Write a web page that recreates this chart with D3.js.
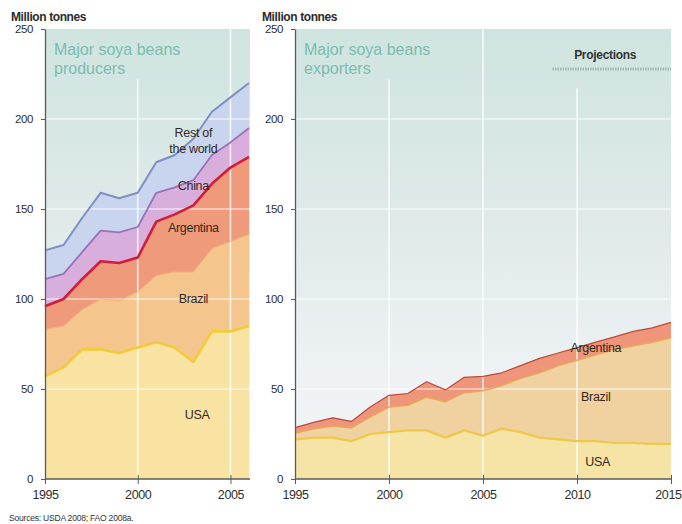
<!DOCTYPE html>
<html>
<head>
<meta charset="utf-8">
<script src="https://cdn.jsdelivr.net/npm/d3@7/dist/d3.min.js"></script>
<style>
  body { margin: 0; background: #fff; }
  text { font-family: "Liberation Sans", Arial, sans-serif; }
</style>
</head>
<body>
<svg id="chart" width="682" height="524"></svg>
<script>
// Soya bean production by producer (million tonnes), 1995-2006
const prodYears     = [1995, 1996, 1997, 1998, 1999, 2000, 2001, 2002, 2003, 2004, 2005, 2006];
const prodUSA       = [57, 62, 72, 72, 70, 73, 76, 73, 65, 82, 82, 85];
const prodBrazil    = [26, 23, 22, 28, 29, 31, 37, 42, 50, 46, 50, 51];
const prodArgentina = [13, 15, 17, 21, 21, 19, 30, 32, 37, 36, 41, 43];
const prodChina     = [15, 14, 15, 17, 17, 17, 16, 15, 14, 16, 14, 16];
const prodRest      = [16, 16, 19, 21, 19, 19, 17, 18, 23, 24, 25, 25];

// Soya bean exports by exporter (million tonnes), 1995-2015 incl. projections
const expYears     = [1995, 1996, 1997, 1998, 1999, 2000, 2001, 2002, 2003, 2004, 2005,
                      2006, 2007, 2008, 2009, 2010, 2011, 2012, 2013, 2014, 2015];
const expUSA       = [22, 23, 23, 21, 25, 26, 27, 27, 23, 27, 24, 28, 26, 23, 22, 21, 21, 20, 20, 19.5, 19.5];
const expBrazil    = [3.5, 5, 6.5, 7.5, 9.5, 14, 14, 18.5, 20, 21, 25, 24, 30, 36, 41, 45, 48, 52, 54, 56.5, 59];
const expArgentina = [3, 3.5, 4.5, 3.5, 5.5, 6.5, 6.5, 8.5, 6.5, 8.5, 8, 7, 7, 8, 7, 7, 7, 7, 8, 8, 8.5];

const yTickValues = [0, 50, 100, 150, 200, 250];
const prodXTicks  = [1995, 2000, 2005];
const expXTicks   = [1995, 2000, 2005, 2010, 2015];

const svg = d3.select("#chart");

// Shared vertical background gradient of the plot panels
const defs = svg.append("defs");
const grad = defs.append("linearGradient")
  .attr("id", "panelBg").attr("x1", 0).attr("y1", 0).attr("x2", 0).attr("y2", 1);
grad.append("stop").attr("offset", "0%").attr("stop-color", "#cfe4e0");
grad.append("stop").attr("offset", "45%").attr("stop-color", "#e0eae9");
grad.append("stop").attr("offset", "78%").attr("stop-color", "#eef2f4");
grad.append("stop").attr("offset", "100%").attr("stop-color", "#f3f5f6");

function drawPanel(cfg) {
  const x = d3.scaleLinear().domain(cfg.xDomain).range(cfg.xRange);
  const y = d3.scaleLinear().domain([0, 250]).range([479, 29]);
  const g = svg.append("g");

  // panel background
  g.append("rect")
    .attr("x", cfg.xRange[0]).attr("y", y(250))
    .attr("width", cfg.xRange[1] - cfg.xRange[0] + cfg.padRight)
    .attr("height", y(0) - y(250))
    .attr("fill", "url(#panelBg)");

  // stacked data table
  const table = cfg.years.map((yr, i) => {
    const row = { year: yr };
    cfg.series.forEach(s => { row[s.key] = s.values[i]; });
    return row;
  });
  const stacked = d3.stack().keys(cfg.series.map(s => s.key))(table);

  const area = d3.area()
    .x(d => x(d.data.year)).y0(d => y(d[0])).y1(d => y(d[1]));
  const topLine = d3.line()
    .x(d => x(d.data.year)).y(d => y(d[1]));

  stacked.forEach((layer, i) => {
    g.append("path").attr("d", area(layer)).attr("fill", cfg.series[i].fill);
  });

  // gridlines over the areas
  const grid = g.append("g").attr("stroke", "#ffffff").attr("stroke-opacity", 0.6);
  [50, 100, 150, 200].forEach(v => {
    grid.append("line")
      .attr("x1", cfg.xRange[0]).attr("x2", cfg.xRange[1] + cfg.padRight)
      .attr("y1", y(v)).attr("y2", y(v)).attr("stroke-width", 1.4);
  });
  cfg.vGrid.forEach(gv => {
    grid.append("line")
      .attr("x1", x(gv.year)).attr("x2", x(gv.year))
      .attr("y1", y(gv.from)).attr("y2", y(0))
      .attr("stroke-width", 1.6).attr("stroke-opacity", 0.8);
  });

  // boundary lines on top of each layer
  stacked.forEach((layer, i) => {
    const s = cfg.series[i];
    if (!s.line) return;
    g.append("path").attr("d", topLine(layer))
      .attr("fill", "none").attr("stroke", s.line)
      .attr("stroke-width", s.lineWidth).attr("stroke-linejoin", "round");
  });

  // y axis
  const yAxis = d3.axisLeft(y).tickValues(yTickValues).tickSize(4).tickPadding(8).tickSizeOuter(0);
  const ya = g.append("g").attr("transform", `translate(${cfg.xRange[0]},0)`).call(yAxis);
  ya.select(".domain").attr("stroke", "#5a5a5a").attr("stroke-width", 1.3);
  ya.selectAll(".tick line").attr("stroke", "#5a5a5a");
  ya.selectAll(".tick text").attr("fill", "#2e2e2e").style("font-size", "11.5px")
    .style("letter-spacing", "-0.4px");

  // x axis
  const xAxis = d3.axisBottom(x).tickValues(cfg.xTicks).tickFormat(d3.format("d"))
    .tickSize(5).tickPadding(6).tickSizeOuter(0);
  const xa = g.append("g").attr("transform", `translate(0,${y(0)})`).call(xAxis);
  xa.select(".domain").attr("stroke", "#5a5a5a").attr("stroke-width", 1.3)
    .attr("d", `M${cfg.xRange[0]},0H${cfg.xRange[1] + cfg.padRight}`);
  xa.selectAll(".tick line").attr("stroke", "#5a5a5a").attr("y1", -4);
  xa.selectAll(".tick text").attr("fill", "#2e2e2e").style("font-size", "12.5px")
    .style("letter-spacing", "-0.4px");
  // keep the last year label inside the canvas
  if (cfg.xRange[1] > 660) {
    xa.selectAll(".tick text").filter(d => d === cfg.xDomain[1])
      .attr("text-anchor", "end").attr("x", 10);
  }

  // unit caption
  svg.append("text").attr("x", cfg.unitX).attr("y", 21)
    .attr("fill", "#2b2b2b").style("font-size", "12px").style("font-weight", "bold")
    .style("letter-spacing", "-0.4px").text("Million tonnes");

  // panel title
  const title = svg.append("text").attr("fill", "#7bbdb2").style("font-size", "16px");
  cfg.title.forEach((t, i) => {
    title.append("tspan").attr("x", cfg.xRange[0] + 9).attr("y", 55 + i * 19).text(t);
  });

  // series labels
  cfg.labels.forEach(l => {
    g.append("text").attr("x", x(l.year)).attr("y", y(l.value)).attr("dy", "0.35em")
      .attr("text-anchor", "middle").attr("fill", "#33291c")
      .style("font-size", "12.5px").style("letter-spacing", "-0.3px").text(l.text);
  });

  return { x, y, g };
}

drawPanel({
  years: prodYears,
  xDomain: [1995, 2006], xRange: [45, 249], padRight: 1,
  xTicks: prodXTicks,
  vGrid: [{ year: 2000, from: 222 }, { year: 2005, from: 250 }],
  unitX: 11,
  title: ["Major soya beans", "producers"],
  series: [
    { key: "USA",       values: prodUSA,       fill: "#f8e3a2", line: "#f0cc3c", lineWidth: 2.6 },
    { key: "Brazil",    values: prodBrazil,    fill: "#f4c68e", line: "#f0b277", lineWidth: 1 },
    { key: "Argentina", values: prodArgentina, fill: "#ef9b7b", line: "#d21d3a", lineWidth: 2.6 },
    { key: "China",     values: prodChina,     fill: "#d8afdc", line: "#9a72b6", lineWidth: 1.8 },
    { key: "Rest",      values: prodRest,      fill: "#c9d4ef", line: "#7e90c3", lineWidth: 2 }
  ],
  labels: [
    { text: "Rest of",   year: 2003.0, value: 192.2 },
    { text: "the world", year: 2003.0, value: 183.3 },
    { text: "China",     year: 2003.0, value: 162.8 },
    { text: "Argentina", year: 2003.0, value: 139.4 },
    { text: "Brazil",    year: 2003.0, value: 100 },
    { text: "USA",       year: 2003.2, value: 35.5 }
  ]
});

const exp = drawPanel({
  years: expYears,
  xDomain: [1995, 2015], xRange: [295, 671], padRight: 0,
  xTicks: expXTicks,
  vGrid: [{ year: 2000, from: 222 }, { year: 2005, from: 250 }, { year: 2010, from: 217 }],
  unitX: 262,
  title: ["Major soya beans", "exporters"],
  series: [
    { key: "USA",       values: expUSA,       fill: "#f6e3a6", line: "#ecc94a", lineWidth: 2.2 },
    { key: "Brazil",    values: expBrazil,    fill: "#efd29f", line: "#e9a45e", lineWidth: 1.6 },
    { key: "Argentina", values: expArgentina, fill: "#ef957a", line: "#b94a3c", lineWidth: 1.2 }
  ],
  labels: [
    { text: "Argentina", year: 2011.0, value: 72.8 },
    { text: "Brazil",    year: 2011.0, value: 45.6 },
    { text: "USA",       year: 2011.1, value: 9.4 }
  ]
});

// Projections marker over the forecast years
exp.g.append("text").attr("x", exp.x(2011.5)).attr("y", 59)
  .attr("text-anchor", "middle").attr("fill", "#333")
  .style("font-size", "12px").style("font-weight", "bold").style("letter-spacing", "-0.3px")
  .text("Projections");
exp.g.append("line")
  .attr("x1", exp.x(2008.7)).attr("x2", exp.x(2015)).attr("y1", 69).attr("y2", 69)
  .attr("stroke", "#9fb9bd").attr("stroke-width", 3).attr("stroke-dasharray", "1.5 1");

// Source note
svg.append("text").attr("x", 9).attr("y", 521).attr("fill", "#333")
  .style("font-size", "8.5px").style("letter-spacing", "-0.2px")
  .text("Sources: USDA 2008; FAO 2008a.");
</script>
</body>
</html>
